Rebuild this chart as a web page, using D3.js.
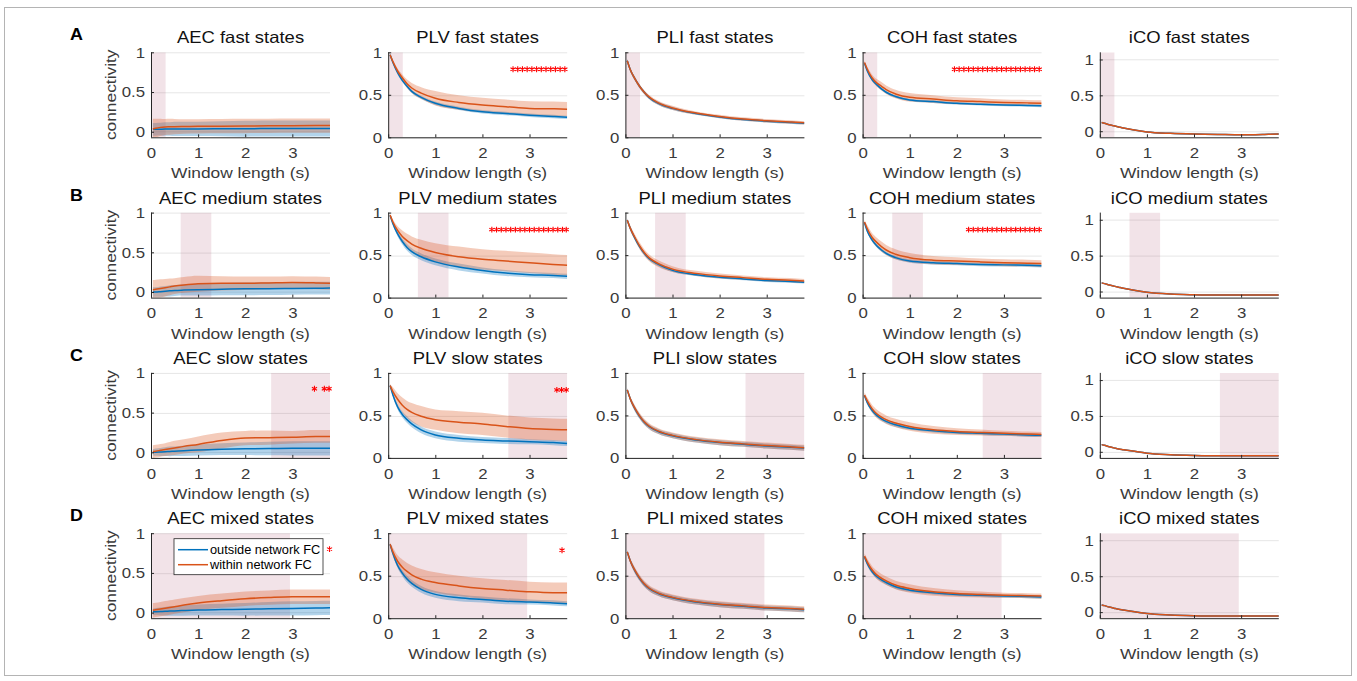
<!DOCTYPE html>
<html>
<head>
<meta charset="utf-8">
<script src="https://cdn.jsdelivr.net/npm/d3@7"></script>
<style>
  body { margin: 0; background: #fff; }
  svg { display: block; font-family: "Liberation Sans", Arial, Helvetica, sans-serif; }
</style>
</head>
<body>
<svg id="chart" width="1357" height="681"></svg>
<script>
/* ---------- data ---------- */
const measures = ["AEC", "PLV", "PLI", "COH", "iCO"];
const states = ["fast", "medium", "slow", "mixed"];
const rowLetters = ["A", "B", "C", "D"];
const windowLengths = [0.04, 0.1, 0.2, 0.3, 0.4, 0.5, 0.7, 1.0, 1.5, 2.0, 2.5, 3.0, 3.5, 3.8];
const xTicks = [0, 1, 2, 3];
const yTicks = [0, 0.5, 1];
const yDomains = [[-0.07, 1], [0, 1], [0, 1], [0, 1], [-0.085, 1.1]];
// shaded window-length range of each state type (s)
const stateSpans = [[0, 0.31], [0.63, 1.28], [2.55, 3.8], [0, 2.95]];
const seriesNames = ["outside network FC", "within network FC"];

// rows: fast, medium, slow, mixed
const aecOutMean = [
  [0.03, 0.03, 0.032, 0.033, 0.034, 0.035, 0.035, 0.036, 0.037, 0.038, 0.04, 0.04, 0.04, 0.04],
  [0.0, 0.0, 0.005, 0.01, 0.015, 0.02, 0.025, 0.03, 0.035, 0.04, 0.042, 0.045, 0.048, 0.05],
  [0.0, 0.002, 0.005, 0.008, 0.012, 0.015, 0.02, 0.03, 0.04, 0.045, 0.047, 0.05, 0.05, 0.05],
  [0.01, 0.012, 0.015, 0.017, 0.02, 0.022, 0.027, 0.033, 0.038, 0.042, 0.048, 0.053, 0.057, 0.06]
];
const aecOutSd = [
  [0.08, 0.08, 0.08, 0.085, 0.085, 0.09, 0.09, 0.09, 0.095, 0.1, 0.1, 0.1, 0.1, 0.1],
  [0.06, 0.06, 0.065, 0.065, 0.07, 0.07, 0.07, 0.075, 0.075, 0.08, 0.08, 0.08, 0.08, 0.08],
  [0.04, 0.045, 0.05, 0.055, 0.06, 0.06, 0.065, 0.07, 0.075, 0.08, 0.085, 0.09, 0.09, 0.09],
  [0.04, 0.045, 0.05, 0.055, 0.06, 0.06, 0.065, 0.07, 0.075, 0.08, 0.085, 0.09, 0.09, 0.09]
];
const aecInMean = [
  [0.035, 0.045, 0.055, 0.06, 0.062, 0.064, 0.066, 0.068, 0.07, 0.072, 0.074, 0.076, 0.077, 0.077],
  [0.03, 0.035, 0.045, 0.055, 0.065, 0.075, 0.09, 0.105, 0.11, 0.11, 0.115, 0.12, 0.115, 0.11],
  [0.01, 0.015, 0.025, 0.035, 0.045, 0.055, 0.075, 0.1, 0.15, 0.18, 0.185, 0.19, 0.2, 0.2],
  [0.03, 0.035, 0.045, 0.055, 0.065, 0.075, 0.095, 0.12, 0.15, 0.175, 0.19, 0.2, 0.2, 0.2]
];
const aecInSd = [
  [0.13, 0.12, 0.11, 0.1, 0.1, 0.095, 0.09, 0.09, 0.09, 0.09, 0.09, 0.09, 0.09, 0.09],
  [0.12, 0.12, 0.115, 0.11, 0.105, 0.1, 0.1, 0.1, 0.09, 0.085, 0.08, 0.08, 0.08, 0.08],
  [0.08, 0.08, 0.08, 0.08, 0.085, 0.09, 0.09, 0.1, 0.1, 0.09, 0.09, 0.08, 0.08, 0.08],
  [0.09, 0.09, 0.09, 0.09, 0.09, 0.09, 0.09, 0.09, 0.09, 0.09, 0.09, 0.09, 0.09, 0.09]
];

const plvOutMean = [
  [0.97, 0.88, 0.76, 0.67, 0.6, 0.54, 0.47, 0.4, 0.34, 0.3, 0.28, 0.26, 0.245, 0.235],
  [0.97, 0.87, 0.75, 0.66, 0.59, 0.54, 0.48, 0.42, 0.36, 0.32, 0.29, 0.27, 0.26, 0.25],
  [0.85, 0.74, 0.6, 0.51, 0.45, 0.4, 0.33, 0.27, 0.23, 0.21, 0.2, 0.19, 0.18, 0.17],
  [0.87, 0.76, 0.62, 0.53, 0.46, 0.41, 0.34, 0.28, 0.24, 0.22, 0.2, 0.19, 0.18, 0.17]
];
const plvOutSd = [
  [0.01, 0.015, 0.02, 0.02, 0.02, 0.02, 0.02, 0.02, 0.02, 0.02, 0.02, 0.02, 0.02, 0.02],
  [0.01, 0.02, 0.03, 0.035, 0.04, 0.04, 0.04, 0.04, 0.04, 0.035, 0.035, 0.03, 0.03, 0.03],
  [0.01, 0.02, 0.03, 0.035, 0.04, 0.04, 0.04, 0.04, 0.04, 0.035, 0.035, 0.03, 0.03, 0.03],
  [0.01, 0.02, 0.03, 0.035, 0.04, 0.04, 0.04, 0.04, 0.04, 0.035, 0.035, 0.03, 0.03, 0.03]
];
const plvInMean = [
  [0.97, 0.89, 0.78, 0.7, 0.63, 0.58, 0.52, 0.46, 0.41, 0.38, 0.36, 0.34, 0.335, 0.33],
  [0.97, 0.89, 0.79, 0.72, 0.67, 0.63, 0.58, 0.53, 0.48, 0.45, 0.43, 0.41, 0.39, 0.38],
  [0.85, 0.78, 0.69, 0.62, 0.57, 0.535, 0.49, 0.45, 0.42, 0.4, 0.37, 0.345, 0.335, 0.33],
  [0.87, 0.78, 0.67, 0.6, 0.55, 0.51, 0.46, 0.42, 0.38, 0.35, 0.33, 0.31, 0.3, 0.3]
];
const plvInSd = [
  [0.01, 0.02, 0.03, 0.04, 0.05, 0.06, 0.07, 0.085, 0.085, 0.085, 0.085, 0.085, 0.085, 0.085],
  [0.01, 0.03, 0.05, 0.07, 0.08, 0.09, 0.1, 0.11, 0.12, 0.12, 0.12, 0.12, 0.12, 0.12],
  [0.02, 0.05, 0.07, 0.09, 0.1, 0.11, 0.12, 0.12, 0.13, 0.13, 0.13, 0.13, 0.13, 0.13],
  [0.02, 0.05, 0.07, 0.09, 0.1, 0.11, 0.12, 0.12, 0.12, 0.12, 0.12, 0.12, 0.12, 0.12]
];

const pliOutMean = [
  [0.9, 0.8, 0.69, 0.6, 0.53, 0.47, 0.4, 0.34, 0.28, 0.24, 0.21, 0.19, 0.175, 0.165],
  [0.91, 0.82, 0.7, 0.6, 0.52, 0.46, 0.39, 0.32, 0.27, 0.24, 0.22, 0.2, 0.19, 0.18],
  [0.8, 0.7, 0.58, 0.49, 0.42, 0.37, 0.31, 0.26, 0.21, 0.18, 0.16, 0.14, 0.125, 0.115],
  [0.78, 0.68, 0.56, 0.47, 0.4, 0.35, 0.29, 0.24, 0.19, 0.16, 0.14, 0.12, 0.11, 0.1]
];
const pliOutSd = [
  [0.02, 0.02, 0.02, 0.02, 0.02, 0.02, 0.02, 0.02, 0.015, 0.015, 0.015, 0.015, 0.015, 0.015],
  [0.02, 0.02, 0.02, 0.02, 0.02, 0.02, 0.02, 0.02, 0.015, 0.015, 0.015, 0.015, 0.015, 0.015],
  [0.02, 0.025, 0.03, 0.03, 0.03, 0.03, 0.03, 0.03, 0.03, 0.03, 0.03, 0.03, 0.03, 0.03],
  [0.02, 0.025, 0.03, 0.03, 0.03, 0.03, 0.03, 0.03, 0.03, 0.03, 0.03, 0.03, 0.03, 0.03]
];
const pliInMean = [
  [0.9, 0.8, 0.69, 0.6, 0.53, 0.475, 0.405, 0.345, 0.285, 0.245, 0.215, 0.195, 0.18, 0.17],
  [0.91, 0.82, 0.71, 0.61, 0.53, 0.47, 0.4, 0.335, 0.285, 0.255, 0.235, 0.215, 0.205, 0.195],
  [0.8, 0.7, 0.585, 0.495, 0.425, 0.375, 0.315, 0.265, 0.215, 0.185, 0.165, 0.145, 0.13, 0.12],
  [0.78, 0.68, 0.565, 0.475, 0.405, 0.355, 0.295, 0.245, 0.195, 0.165, 0.145, 0.125, 0.115, 0.105]
];
const pliInSd = [
  [0.02, 0.025, 0.025, 0.025, 0.025, 0.025, 0.025, 0.025, 0.02, 0.02, 0.02, 0.02, 0.02, 0.02],
  [0.02, 0.03, 0.035, 0.04, 0.04, 0.04, 0.04, 0.035, 0.03, 0.03, 0.025, 0.025, 0.025, 0.025],
  [0.02, 0.03, 0.035, 0.035, 0.035, 0.035, 0.035, 0.035, 0.035, 0.035, 0.035, 0.035, 0.035, 0.035],
  [0.02, 0.03, 0.035, 0.035, 0.035, 0.035, 0.035, 0.035, 0.035, 0.035, 0.035, 0.035, 0.035, 0.035]
];

const cohOutMean = [
  [0.87, 0.78, 0.68, 0.62, 0.57, 0.53, 0.48, 0.44, 0.42, 0.4, 0.39, 0.38, 0.375, 0.37],
  [0.88, 0.78, 0.68, 0.61, 0.56, 0.52, 0.47, 0.43, 0.41, 0.4, 0.39, 0.385, 0.38, 0.375],
  [0.73, 0.65, 0.56, 0.5, 0.46, 0.43, 0.39, 0.35, 0.32, 0.3, 0.29, 0.28, 0.27, 0.265],
  [0.72, 0.64, 0.55, 0.49, 0.45, 0.42, 0.37, 0.33, 0.3, 0.28, 0.27, 0.26, 0.255, 0.25]
];
const cohOutSd = [
  [0.01, 0.015, 0.015, 0.015, 0.015, 0.015, 0.015, 0.015, 0.015, 0.015, 0.015, 0.015, 0.015, 0.015],
  [0.01, 0.015, 0.02, 0.02, 0.02, 0.02, 0.02, 0.02, 0.02, 0.02, 0.02, 0.02, 0.02, 0.02],
  [0.02, 0.025, 0.025, 0.025, 0.025, 0.025, 0.025, 0.02, 0.02, 0.02, 0.02, 0.02, 0.02, 0.02],
  [0.02, 0.025, 0.025, 0.025, 0.025, 0.025, 0.025, 0.02, 0.02, 0.02, 0.02, 0.02, 0.02, 0.02]
];
const cohInMean = [
  [0.88, 0.8, 0.7, 0.64, 0.6, 0.56, 0.51, 0.47, 0.45, 0.43, 0.42, 0.41, 0.405, 0.4],
  [0.89, 0.81, 0.71, 0.65, 0.6, 0.56, 0.51, 0.47, 0.44, 0.43, 0.42, 0.41, 0.405, 0.4],
  [0.74, 0.67, 0.58, 0.52, 0.48, 0.45, 0.41, 0.37, 0.33, 0.31, 0.3, 0.29, 0.28, 0.275],
  [0.73, 0.66, 0.57, 0.51, 0.47, 0.44, 0.39, 0.35, 0.31, 0.29, 0.28, 0.27, 0.265, 0.26]
];
const cohInSd = [
  [0.02, 0.03, 0.04, 0.045, 0.05, 0.05, 0.05, 0.05, 0.045, 0.04, 0.04, 0.035, 0.035, 0.035],
  [0.02, 0.04, 0.05, 0.055, 0.06, 0.06, 0.06, 0.055, 0.05, 0.045, 0.04, 0.04, 0.04, 0.04],
  [0.03, 0.04, 0.045, 0.05, 0.05, 0.05, 0.05, 0.05, 0.045, 0.04, 0.035, 0.03, 0.03, 0.03],
  [0.03, 0.04, 0.045, 0.05, 0.05, 0.05, 0.05, 0.05, 0.045, 0.04, 0.035, 0.03, 0.03, 0.03]
];

const icoOutMean = [
  [0.12, 0.11, 0.09, 0.075, 0.06, 0.045, 0.02, -0.01, -0.03, -0.04, -0.045, -0.05, -0.045, -0.04],
  [0.12, 0.11, 0.09, 0.075, 0.06, 0.045, 0.02, -0.01, -0.035, -0.045, -0.05, -0.05, -0.05, -0.05],
  [0.1, 0.09, 0.07, 0.055, 0.04, 0.03, 0.01, -0.02, -0.04, -0.05, -0.055, -0.055, -0.055, -0.055],
  [0.1, 0.09, 0.07, 0.055, 0.04, 0.03, 0.01, -0.02, -0.04, -0.05, -0.055, -0.055, -0.055, -0.055]
];
const icoOutSd = [
  [0.005, 0.005, 0.006, 0.006, 0.007, 0.007, 0.008, 0.008, 0.008, 0.008, 0.008, 0.008, 0.008, 0.008],
  [0.005, 0.005, 0.006, 0.006, 0.007, 0.007, 0.008, 0.008, 0.008, 0.008, 0.008, 0.008, 0.008, 0.008],
  [0.005, 0.005, 0.006, 0.006, 0.007, 0.007, 0.008, 0.008, 0.008, 0.008, 0.008, 0.008, 0.008, 0.008],
  [0.005, 0.005, 0.006, 0.006, 0.007, 0.007, 0.008, 0.008, 0.008, 0.008, 0.008, 0.008, 0.008, 0.008]
];
const icoInMean = [
  [0.12, 0.11, 0.09, 0.075, 0.06, 0.045, 0.02, -0.01, -0.03, -0.04, -0.045, -0.05, -0.045, -0.04],
  [0.12, 0.11, 0.09, 0.075, 0.06, 0.045, 0.02, -0.01, -0.035, -0.045, -0.05, -0.05, -0.05, -0.05],
  [0.1, 0.09, 0.07, 0.055, 0.04, 0.03, 0.01, -0.02, -0.04, -0.05, -0.055, -0.055, -0.055, -0.055],
  [0.1, 0.09, 0.07, 0.055, 0.04, 0.03, 0.01, -0.02, -0.04, -0.05, -0.055, -0.055, -0.055, -0.055]
];
const icoInSd = [
  [0.008, 0.008, 0.008, 0.008, 0.008, 0.008, 0.008, 0.008, 0.008, 0.008, 0.008, 0.008, 0.008, 0.008],
  [0.008, 0.008, 0.008, 0.008, 0.008, 0.008, 0.008, 0.008, 0.008, 0.008, 0.008, 0.008, 0.008, 0.008],
  [0.008, 0.008, 0.008, 0.008, 0.008, 0.008, 0.008, 0.008, 0.008, 0.008, 0.008, 0.008, 0.008, 0.008],
  [0.008, 0.008, 0.008, 0.008, 0.008, 0.008, 0.008, 0.008, 0.008, 0.008, 0.008, 0.008, 0.008, 0.008]
];

// window lengths (s) where within > outside is significant, marked at y = 0.8
const sigWindows = [
  ["PLV", "fast", [2.65, 2.75, 2.85, 2.95, 3.05, 3.15, 3.25, 3.35, 3.45, 3.55, 3.65, 3.75]],
  ["COH", "fast", [1.95, 2.05, 2.15, 2.25, 2.35, 2.45, 2.55, 2.65, 2.75, 2.85, 2.95, 3.05, 3.15, 3.25, 3.35, 3.45, 3.55, 3.65, 3.75]],
  ["PLV", "medium", [2.2, 2.3, 2.4, 2.5, 2.6, 2.7, 2.8, 2.9, 3.0, 3.1, 3.2, 3.3, 3.4, 3.5, 3.6, 3.7, 3.78]],
  ["COH", "medium", [2.25, 2.35, 2.45, 2.55, 2.65, 2.75, 2.85, 2.95, 3.05, 3.15, 3.25, 3.35, 3.45, 3.55, 3.65, 3.75]],
  ["AEC", "slow", [3.47, 3.68, 3.78]],
  ["PLV", "slow", [3.58, 3.68, 3.78]],
  ["AEC", "mixed", [3.79]],
  ["PLV", "mixed", [3.69]]
];

const outMeans = [aecOutMean, plvOutMean, pliOutMean, cohOutMean, icoOutMean];
const outSds = [aecOutSd, plvOutSd, pliOutSd, cohOutSd, icoOutSd];
const inMeans = [aecInMean, plvInMean, pliInMean, cohInMean, icoInMean];
const inSds = [aecInSd, plvInSd, pliInSd, cohInSd, icoInSd];

/* ---------- layout ---------- */
const colLeft0 = 151, colStep = 237.2, plotW = 179;
const rowTop0 = 52.3, rowStep = 160.3, plotH = 85;
const blue = "#0072BD", orange = "#D95319";
const axisColor = "#262626";
const labelColor = "#3a3a3a";
// the source figure's lettering is a little wider than Liberation Sans
const stretch = 1.12;

const svg = d3.select("#chart");

// outer frame
svg.append("rect")
  .attr("x", 4.5).attr("y", 7.5)
  .attr("width", 1347).attr("height", 668)
  .attr("fill", "none").attr("stroke", "#b4b4b4").attr("stroke-width", 1);

const defs = svg.append("defs");
const xScale = d3.scaleLinear().domain([0, 3.8]).range([0, plotW]);

function wideText(sel, x, y, rot = 0) {
  return sel.append("text")
    .attr("transform", `translate(${x},${y}) rotate(${rot}) scale(${stretch},1)`);
}

states.forEach((state, r) => {
  const top = rowTop0 + r * rowStep;

  wideText(svg, 70, top - 12)
    .attr("font-size", 16).attr("font-weight", "bold")
    .attr("fill", "#000")
    .text(rowLetters[r]);

  measures.forEach((m, c) => {
    const left = colLeft0 + c * colStep;
    const y = d3.scaleLinear().domain(yDomains[c]).range([plotH, 0]);
    const g = svg.append("g").attr("transform", `translate(${left},${top})`);

    const clipId = `clip-${r}-${c}`;
    defs.append("clipPath").attr("id", clipId)
      .append("rect").attr("width", plotW).attr("height", plotH);

    // grid
    g.selectAll("line.grid").data(yTicks).join("line")
      .attr("class", "grid")
      .attr("x1", 0).attr("x2", plotW)
      .attr("y1", d => Math.round(y(d)) + 0.5).attr("y2", d => Math.round(y(d)) + 0.5)
      .attr("stroke", "#e6e6e6").attr("stroke-width", 1);

    const body = g.append("g").attr("clip-path", `url(#${clipId})`);

    // state window shading
    const span = stateSpans[r];
    body.append("rect")
      .attr("x", xScale(span[0])).attr("y", 0)
      .attr("width", xScale(span[1]) - xScale(span[0]))
      .attr("height", plotH)
      .attr("fill", "rgb(160,60,90)").attr("fill-opacity", 0.14);

    const series = [
      { mean: outMeans[c][r], sd: outSds[c][r], color: blue },
      { mean: inMeans[c][r], sd: inSds[c][r], color: orange }
    ];

    const area = d3.area()
      .x((d, i) => xScale(windowLengths[i]))
      .y0(d => y(d.m - d.s))
      .y1(d => y(d.m + d.s))
      .curve(d3.curveMonotoneX);
    const line = d3.line()
      .x((d, i) => xScale(windowLengths[i]))
      .y(d => y(d.m))
      .curve(d3.curveMonotoneX);

    series.forEach(s => {
      const pts = s.mean.map((m, i) => ({ m, s: s.sd[i] }));
      body.append("path").datum(pts)
        .attr("d", area)
        .attr("fill", s.color).attr("fill-opacity", 0.3);
    });
    series.forEach(s => {
      const pts = s.mean.map((m, i) => ({ m, s: s.sd[i] }));
      body.append("path").datum(pts)
        .attr("d", line)
        .attr("fill", "none").attr("stroke", s.color).attr("stroke-width", 1.5);
    });

    // significance stars
    const sig = sigWindows.find(d => d[0] === m && d[1] === state);
    if (sig) {
      g.selectAll("path.star").data(sig[2]).join("path")
        .attr("class", "star")
        .attr("transform", d => `translate(${xScale(d)},${y(0.8)})`)
        .attr("d", d3.symbol(d3.symbolAsterisk, 24))
        .attr("fill", "none").attr("stroke", "#ff0000").attr("stroke-width", 1.1);
    }

    // axes
    const xAxis = g.append("g").attr("transform", `translate(0,${plotH})`)
      .call(d3.axisBottom(xScale).tickValues(xTicks).tickFormat(d3.format("d"))
        .tickSizeInner(-3).tickSizeOuter(0).tickPadding(10));
    const yAxis = g.append("g")
      .call(d3.axisLeft(y).tickValues(yTicks).tickFormat(d => d === 0.5 ? "0.5" : d3.format("d")(d))
        .tickSizeInner(-3).tickSizeOuter(0).tickPadding(6));
    [xAxis, yAxis].forEach(a => {
      a.select(".domain").attr("stroke", axisColor);
      a.selectAll(".tick line").attr("stroke", axisColor);
      a.selectAll(".tick text")
        .attr("fill", labelColor)
        .attr("font-size", 15)
        .attr("font-family", "\"Liberation Sans\", Arial, sans-serif");
    });
    // widen tick labels around their anchor
    xAxis.selectAll(".tick text").attr("transform", `scale(${stretch},1)`)
      .attr("x", 0);
    yAxis.selectAll(".tick text").each(function () {
      const t = d3.select(this);
      const x0 = +t.attr("x");
      t.attr("x", x0 / stretch).attr("transform", `scale(${stretch},1)`);
    });
    yAxis.select(".domain").attr("d", `M0.5,0V${plotH}`);
    xAxis.select(".domain").attr("d", `M0,0.5H${plotW}`);

    // labels
    wideText(g, plotW / 2, -9)
      .attr("text-anchor", "middle")
      .attr("font-size", 16.5).attr("fill", "#111")
      .text(`${m} ${state} states`);

    wideText(g, plotW / 2, plotH + 41)
      .attr("text-anchor", "middle")
      .attr("font-size", 15.5).attr("fill", labelColor)
      .text("Window length (s)");

    if (c === 0) {
      wideText(g, -35, plotH / 2, -90)
        .attr("text-anchor", "middle")
        .attr("font-size", 15.5).attr("fill", labelColor)
        .text("connectivity");
    }

    // legend in AEC mixed panel
    if (c === 0 && r === 3) {
      const lg = g.append("g").attr("transform", "translate(23,5.5)");
      lg.append("rect")
        .attr("width", 149).attr("height", 36)
        .attr("fill", "#fff").attr("stroke", axisColor).attr("stroke-width", 0.8);
      [blue, orange].forEach((col, i) => {
        const yy = 11 + i * 15;
        lg.append("line")
          .attr("x1", 4).attr("x2", 34).attr("y1", yy).attr("y2", yy)
          .attr("stroke", col).attr("stroke-width", 1.5);
        lg.append("text")
          .attr("x", 36).attr("y", yy + 4.5)
          .attr("font-size", 12.8).attr("fill", "#000")
          .text(seriesNames[i]);
      });
    }
  });
});
</script>
</body>
</html>
